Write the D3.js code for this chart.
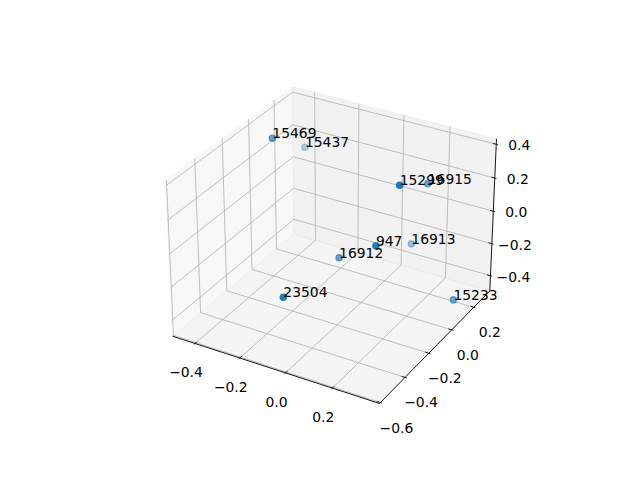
<!DOCTYPE html>
<html>
<head>
<meta charset="utf-8">
<script src="https://cdnjs.cloudflare.com/ajax/libs/d3/7.8.5/d3.min.js"></script>
<style>
body { margin: 0; background: #fff; }
svg text { font-family: "DejaVu Sans", sans-serif; font-size: 13.9px; fill: #000; }
</style>
</head>
<body>
<svg id="chart" width="640" height="480"></svg>
<script>
// point labels and 3d coordinates
var labels = ["15469", "15437", "15299", "16915", "947", "16913", "16912", "23504", "15233"];
var xs = [-0.377, -0.431, 0.243, 0.159, 0.201, 0.077, -0.042, -0.046, 0.356];
var ys = [-0.032, 0.321, -0.165, 0.248, -0.269, 0.282, -0.107, -0.536, 0.095];
var zs = [0.381, 0.102, 0.413, 0.139, 0.113, -0.285, -0.164, -0.113, -0.395];

// axis ticks and limits
var xTicks = [-0.4, -0.2, 0.0, 0.2];
var yTicks = [-0.6, -0.4, -0.2, 0.0, 0.2];
var zTicks = [-0.4, -0.2, 0.0, 0.2, 0.4];
var xLim = [-0.502, 0.397];
var yLim = [-0.607, 0.349];
var zLim = [-0.497, 0.4325];

var svg = d3.select("#chart");
var fmt = d3.format(".1f");

// view, like matplotlib's default 3d axes (elev 30, azim -60)
var elev = 30, azim = -60, dist = 10;
var box = [8 / 7, 8 / 7, 6 / 7];
var A = box[0], B = box[1], C = box[2];

var xScale = d3.scaleLinear().domain(xLim).range([0, A]);
var yScale = d3.scaleLinear().domain(yLim).range([0, B]);
var zScale = d3.scaleLinear().domain(zLim).range([0, C]);

function dot(p, q) { return p[0] * q[0] + p[1] * q[1] + p[2] * q[2]; }
function cross(p, q) {
	return [p[1] * q[2] - p[2] * q[1], p[2] * q[0] - p[0] * q[2], p[0] * q[1] - p[1] * q[0]];
}
function norm(p) { var l = Math.sqrt(dot(p, p)); return p.map(function(d) { return d / l; }); }

var el = elev * Math.PI / 180, az = azim * Math.PI / 180;
var w = [Math.cos(el) * Math.cos(az), Math.cos(el) * Math.sin(az), Math.sin(el)];
var eye = box.map(function(b, i) { return b / 2 + dist * w[i]; });
var u = norm([-w[1], w[0], 0]);
var v = cross(w, u);

// projected plane -> pixels
var sx = d3.scaleLinear().domain([0, 0.1]).range([334, 334 + 207.5]);
var sy = d3.scaleLinear().domain([0, 0.1]).range([237.8, 237.8 - 207.5]);

function proj(p) {
	var d = [p[0] - eye[0], p[1] - eye[1], p[2] - eye[2]];
	var zv = -dot(w, d);
	return [sx(dot(u, d) / zv), sy(dot(v, d) / zv), zv];
}
function pt(x, y, z) { return proj([xScale(x), yScale(y), zScale(z)]); }

var line = d3.line();

// panes (back faces)
var panes = [
	{ c: "rgba(242,242,242,0.5)", p: [[0, 0, 0], [0, B, 0], [0, B, C], [0, 0, C]] },
	{ c: "rgba(230,230,230,0.5)", p: [[0, B, 0], [A, B, 0], [A, B, C], [0, B, C]] },
	{ c: "rgba(236,236,236,0.5)", p: [[0, 0, 0], [A, 0, 0], [A, B, 0], [0, B, 0]] }
];
svg.append("g").selectAll("path").data(panes).enter().append("path")
	.attr("d", function(d) { return line(d.p.map(proj).map(function(q) { return [q[0], q[1]]; })) + "Z"; })
	.attr("fill", function(d) { return d.c; })
	.attr("stroke", function(d) { return d.c; })
	.attr("stroke-width", 1);

// grid lines
var grid = [];
xTicks.forEach(function(t) { var a = xScale(t); grid.push([[a, 0, 0], [a, B, 0], [a, B, C]]); });
yTicks.forEach(function(t) { var b = yScale(t); grid.push([[A, b, 0], [0, b, 0], [0, b, C]]); });
zTicks.forEach(function(t) { var c = zScale(t); grid.push([[0, 0, c], [0, B, c], [A, B, c]]); });
svg.append("g").selectAll("path").data(grid).enter().append("path")
	.attr("d", function(d) { return line(d.map(proj).map(function(q) { return [q[0], q[1]]; })); })
	.attr("fill", "none")
	.attr("stroke", "#b0b0b0")
	.attr("stroke-width", 0.8);

// axes: edge, tick direction, label pixel offset
var axes = [
	{ ticks: xTicks, at: function(t) { return [xScale(t), 0, 0]; }, e: [[0, 0, 0], [A, 0, 0]], td: [0, -B / 12, 0], off: [-9, 29] },
	{ ticks: yTicks, at: function(t) { return [A, yScale(t), 0]; }, e: [[A, 0, 0], [A, B, 0]], td: [A / 12, 0, 0], off: [16, 25] },
	{ ticks: zTicks, at: function(t) { return [A, B, zScale(t)]; }, e: [[A, B, 0], [A, B, C]], td: [A / 12, 0, 0], off: [23, 1] }
];

var axG = svg.append("g");
axes.forEach(function(ax) {
	var e0 = proj(ax.e[0]), e1 = proj(ax.e[1]);
	axG.append("line")
		.attr("x1", e0[0]).attr("y1", e0[1]).attr("x2", e1[0]).attr("y2", e1[1])
		.attr("stroke", "#000").attr("stroke-width", 0.9);
	ax.ticks.forEach(function(t) {
		var p = ax.at(t);
		var out = proj([p[0] + 0.1 * ax.td[0], p[1] + 0.1 * ax.td[1], p[2] + 0.1 * ax.td[2]]);
		var inn = proj([p[0] - 0.2 * ax.td[0], p[1] - 0.2 * ax.td[1], p[2] - 0.2 * ax.td[2]]);
		axG.append("line")
			.attr("x1", out[0]).attr("y1", out[1]).attr("x2", inn[0]).attr("y2", inn[1])
			.attr("stroke", "#000").attr("stroke-width", 0.8);
		var c = proj(p);
		axG.append("text")
			.attr("x", c[0] + ax.off[0]).attr("y", c[1] + ax.off[1])
			.attr("text-anchor", "middle")
			.attr("dominant-baseline", "central")
			.text(fmt(t));
	});
});

// scatter with depth shading
var pts = labels.map(function(l, i) {
	var q = pt(xs[i], ys[i], zs[i]);
	return { label: l, x: q[0], y: q[1], depth: q[2] };
});
var alpha = d3.scaleLinear().domain(d3.extent(pts, function(d) { return d.depth; })).range([1, 0.3]);

svg.append("g").selectAll("circle").data(pts).enter().append("circle")
	.attr("cx", function(d) { return d.x; })
	.attr("cy", function(d) { return d.y; })
	.attr("r", 3.1)
	.attr("fill", "#1f77b4")
	.attr("stroke", "#1f77b4")
	.attr("stroke-width", 1.4)
	.attr("fill-opacity", function(d) { return alpha(d.depth); })
	.attr("stroke-opacity", function(d) { return alpha(d.depth); });

svg.append("g").selectAll("text").data(pts).enter().append("text")
	.attr("x", function(d) { return d.x; })
	.attr("y", function(d) { return d.y; })
	.text(function(d) { return d.label; });
</script>
</body>
</html>
